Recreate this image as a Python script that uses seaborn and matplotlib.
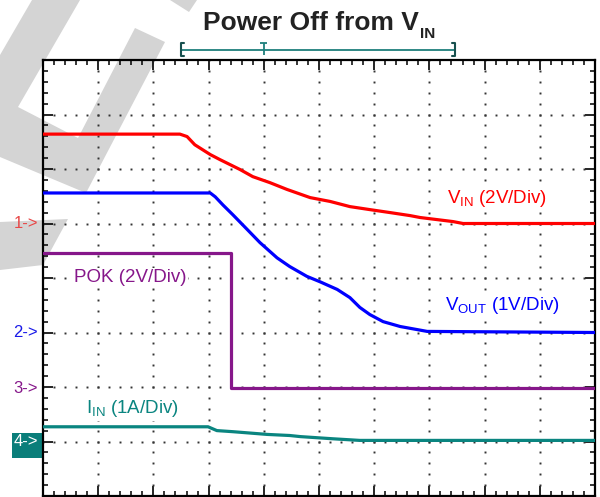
import numpy as np
import pandas as pd
import seaborn as sns
import matplotlib.pyplot as plt
from matplotlib.patches import Polygon, Rectangle

# ---------------------------------------------------------------------------
# Scope screen: 10 horizontal x 8 vertical divisions
# ---------------------------------------------------------------------------
N_HDIV, N_VDIV = 10, 8

# channel ground level (divisions above the bottom) and units per division
ch_names = ["VIN", "VOUT", "POK", "IIN"]
ch_offset = {"VIN": 5.0, "VOUT": 3.0, "POK": 1.98, "IIN": 1.0}
ch_scale = {"VIN": 2.0, "VOUT": 1.0, "POK": 2.0, "IIN": 1.0}
ch_color = {"VIN": "#ff0000", "VOUT": "#0000ff", "POK": "#86178a", "IIN": "#0a8580"}

# captured waveforms, time in divisions
vin_t = [0, 2.48, 2.61, 2.75, 3.03, 3.21, 3.39, 3.57, 3.80, 4.11, 4.42, 4.84,
         5.20, 5.56, 5.92, 6.29, 6.65, 6.83, 7.43, 7.61, 10]
vin_v = [3.28, 3.28, 3.19, 2.89, 2.53, 2.34, 2.16, 1.98, 1.72, 1.50, 1.25, 0.95,
         0.81, 0.62, 0.51, 0.40, 0.29, 0.22, 0.07, 0.0, 0.0]

vout_t = [0, 3.03, 3.12, 3.26, 3.44, 3.70, 3.93, 4.24, 4.47, 4.78, 5.02, 5.33,
          5.56, 5.74, 5.92, 6.16, 6.47, 6.96, 10]
vout_v = [2.56, 2.56, 2.49, 2.34, 2.16, 1.89, 1.65, 1.37, 1.21, 1.03, 0.93, 0.79,
          0.64, 0.46, 0.33, 0.20, 0.11, 0.02, 0.0]

pok_t = [0, 3.41, 3.41, 10]
pok_v = [4.94, 4.94, 0.0, 0.0]

iin_t = [0, 2.99, 3.15, 3.44, 4.06, 4.47, 4.66, 5.25, 5.74, 10]
iin_a = [0.27, 0.27, 0.20, 0.18, 0.13, 0.11, 0.09, 0.05, 0.02, 0.02]

# on-screen labels
title_main, title_sub = "Power Off from V", "IN"
ch_labels = {
    "VIN": r"V$_{\mathrm{IN}}$ (2V/Div)",
    "VOUT": r"V$_{\mathrm{OUT}}$ (1V/Div)",
    "POK": "POK (2V/Div)",
    "IIN": r"I$_{\mathrm{IN}}$ (1A/Div)",
}
ch_markers = {"VIN": "1->", "VOUT": "2->", "POK": "3->", "IIN": "4->"}

# record window / trigger indicator (divisions)
rec_start, rec_trig, rec_end = 2.5, 4.0, 7.46

# ---------------------------------------------------------------------------
sns.set_theme(style="white")
plt.rcParams["font.family"] = ["Liberation Sans", "DejaVu Sans"]
plt.rcParams["mathtext.fontset"] = "custom"
plt.rcParams["mathtext.rm"] = "Liberation Sans"
plt.rcParams["mathtext.it"] = "Liberation Sans:italic"
plt.rcParams["mathtext.bf"] = "Liberation Sans:bold"

W, H = 600, 497
fig = plt.figure(figsize=(W / 100, H / 100), dpi=100)
fig.patch.set_facecolor("white")


def px(x, y):
    """pixel position (origin top-left) -> figure fraction"""
    return (x / W, 1 - y / H)


# light grey logo stripes in the background
wm_color = "#d4d4d4"
for poly in [
    [(32, 0), (80, 0), (18, 107), (78, 138), (135, 28), (165, 42), (86, 193),
     (0, 157), (0, 55)],
    [(170, 0), (197, 0), (189, 12)],
    [(0, 222), (68, 219), (43, 265), (0, 270)],
]:
    fig.add_artist(Polygon([px(*p) for p in poly], closed=True,
                           transform=fig.transFigure, facecolor=wm_color,
                           edgecolor="none", zorder=1))

ax = fig.add_axes([43 / W, 1 / H, 552 / W, 436 / H])
ax.set_zorder(3)
ax.patch.set_visible(False)

# waveforms -> screen divisions
frames = []
for name, t, val in [("VIN", vin_t, vin_v), ("VOUT", vout_t, vout_v),
                     ("POK", pok_t, pok_v), ("IIN", iin_t, iin_a)]:
    v = np.asarray(val) / ch_scale[name] + ch_offset[name]
    frames.append(pd.DataFrame({"t": t, "div": v, "ch": name}))
df = pd.concat(frames, ignore_index=True)

sns.lineplot(data=df, x="t", y="div", hue="ch", hue_order=ch_names,
             palette=ch_color, estimator=None, sort=False, legend=False,
             linewidth=2.3, ax=ax, zorder=5)
ax.patch.set_visible(False)

ax.set_xlim(0, N_HDIV)
ax.set_ylim(0, N_VDIV)
ax.set_xlabel("")
ax.set_ylabel("")

# dotted graticule: dots every 1/5 division along each major line
fine_x = np.arange(0, N_HDIV + 1e-9, 0.2)
fine_y = np.arange(0, N_VDIV + 1e-9, 0.2)
gx, gy = [], []
for xi in range(1, N_HDIV):
    gx.extend([xi] * len(fine_y))
    gy.extend(fine_y)
for yi in range(1, N_VDIV):
    gx.extend(fine_x)
    gy.extend([yi] * len(fine_x))
ax.plot(gx, gy, ls="none", marker="s", ms=1.4, mew=0, color="#333333", zorder=2)

# border ticks
ax.set_xticks(np.arange(0, N_HDIV + 1))
ax.set_yticks(np.arange(0, N_VDIV + 1))
ax.set_xticks(fine_x, minor=True)
ax.set_yticks(fine_y, minor=True)
ax.tick_params(which="both", direction="in", top=True, right=True, bottom=True,
               left=True, labelbottom=False, labelleft=False, color="black")
ax.tick_params(which="major", length=7.5, width=1.2)
ax.tick_params(which="minor", length=3.3, width=1.1)
for s in ax.spines.values():
    s.set_color("black")
    s.set_linewidth(1.6)

# channel labels (on a white patch that hides the graticule dots)
lab_pos = {"VIN": (7.32, 5.38), "VOUT": (7.28, 3.42), "POK": (0.56, 3.92),
           "IIN": (0.78, 1.52)}
for name in ch_names:
    x, y = lab_pos[name]
    ax.text(x, y, ch_labels[name], color=ch_color[name], fontsize=13.5,
            va="baseline", ha="left", zorder=6,
            bbox=dict(boxstyle="square,pad=0.08", facecolor="white",
                      edgecolor="none"))

# channel ground markers
marker_color = {"VIN": "#e84848", "VOUT": "#1a1ae8", "POK": "#86178a"}
for name in ["VIN", "VOUT", "POK"]:
    ax.text(-0.09, ch_offset[name], ch_markers[name], color=marker_color[name],
            fontsize=12, ha="right", va="center", clip_on=False)
fig.add_artist(Rectangle(px(12, 458), 31 / W, 25 / H, transform=fig.transFigure,
                         facecolor="#0a7e7a", edgecolor="none", zorder=2))
ax.text(-0.09, ch_offset["IIN"], ch_markers["IIN"], color="white", fontsize=12,
        ha="right", va="center", clip_on=False)

# record window bracket with trigger mark above the screen
bc, ec = "#1f7f7c", "#17504e"
yb = 8.19
kw = dict(color=bc, lw=1.3, clip_on=False, solid_capstyle="butt")
ax.plot([rec_start, rec_end], [yb, yb], **kw)
for xe, sgn in [(rec_start, 1), (rec_end, -1)]:
    ax.plot([xe + sgn * 0.05, xe, xe, xe + sgn * 0.05],
            [yb + 0.12, yb + 0.12, yb - 0.12, yb - 0.12],
            color=ec, lw=1.5, clip_on=False)
ax.plot([rec_trig, rec_trig], [yb - 0.1, yb + 0.12], **kw)
ax.plot([rec_trig - 0.06, rec_trig + 0.06], [yb + 0.12, yb + 0.12], **kw)

# title
fig.text(*px(203, 30), title_main, fontsize=19, fontweight="bold", color="#222222",
         ha="left", va="baseline")
fig.text(*px(420, 38), title_sub, fontsize=11, fontweight="bold", color="#222222",
         ha="left", va="baseline")

fig.savefig("out.png", dpi=100)
